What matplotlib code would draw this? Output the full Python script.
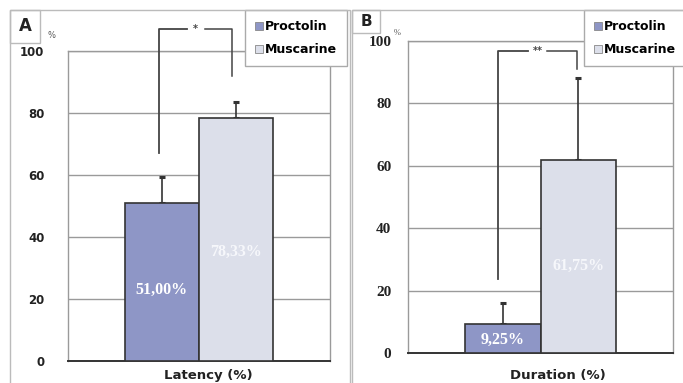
import matplotlib
matplotlib.use("Agg")
import matplotlib.pyplot as plt
from matplotlib.patches import Rectangle

# measured means (%) and upper SEM for each protocol
groups = ["Proctolin", "Muscarine"]
latency = [51.00, 78.33]
latency_err = [8.4, 5.2]
duration = [9.25, 61.75]
duration_err = [6.8, 26.3]

# significance brackets: left foot, top, right foot (%)
latency_bracket = [67, 107, 92]
duration_bracket = [23.7, 96.8, 91]
latency_mark = "*"
duration_mark = "**"

yticks = [0, 20, 40, 60, 80, 100]
colors = ["#8e96c6", "#dcdfea"]
edge = "#333333"
grid = "#9a9a9a"

W, H = 683, 383
fig = plt.figure(figsize=(W / 100, H / 100), dpi=100)


def px_axes(l, t, r, b):
    return fig.add_axes([l / W, 1 - b / H, (r - l) / W, (b - t) / H])


def panel(ax, vals, errs, bracket, mark, xlabel, tick_font, xl_x, bx_off):
    x = [0, 1]
    bars = ax.bar(x, vals, width=1.0, color=colors, edgecolor=edge,
                  linewidth=1.2, zorder=3)
    ax.errorbar(x, vals, yerr=[[0, 0], errs], fmt="none", ecolor=edge,
                elinewidth=1.2, capsize=2.5, capthick=2.2, zorder=2)
    for xi, v, c in zip(x, vals, ["white", "#f6f7fb"]):
        ax.text(xi, v * 0.45, f"{v:.2f}%".replace(".", ","), ha="center",
                va="center", color=c, fontsize=11.5, fontweight="bold",
                family="Liberation Serif", zorder=4)

    # bracket with the significance mark in a gap on top
    x0, x1 = 0 + bx_off[0], 1 + bx_off[1]
    xm = (x0 + x1) / 2
    gap = 0.12
    y0, yt, y1 = bracket
    ax.plot([x0, x0, xm - gap], [y0, yt, yt], color="#444444", lw=1.3,
            clip_on=False, zorder=3)
    ax.plot([xm + gap, x1, x1], [yt, yt, y1], color="#444444", lw=1.1,
            clip_on=False, zorder=3)
    ax.text(xm, yt, mark, ha="center", va="center", fontsize=7,
            color="#444444", fontweight="bold")

    ax.set_xlim(-1.26, 2.26)
    ax.set_ylim(0, 100)
    ax.set_yticks(yticks)
    ax.set_xticks([])
    ax.yaxis.grid(True, color=grid, lw=1)
    ax.set_axisbelow(True)
    for s in ["left", "right", "top"]:
        ax.spines[s].set_color(grid)
        ax.spines[s].set_linewidth(1)
    ax.spines["bottom"].set_color("#333333")
    ax.spines["bottom"].set_linewidth(1.4)
    ax.tick_params(axis="y", length=0, pad=tick_font[1])
    for lab in ax.get_yticklabels():
        lab.set_fontfamily(tick_font[0])
        lab.set_fontweight("bold")
        lab.set_fontsize(tick_font[2])
        lab.set_color("#222222")
    fig.text(xl_x / W, 1 - 376 / H, xlabel, ha="center", va="center",
             fontsize=9.5, fontweight="bold", color="#222222")
    return bars


axA = px_axes(68, 51, 330, 361)
axB = px_axes(408, 41, 673, 353)
barsA = panel(axA, latency, latency_err, latency_bracket, latency_mark,
              "Latency (%)", ("DejaVu Sans", 17, 8.5), 208, (-0.04, -0.05))
barsB = panel(axB, duration, duration_err, duration_bracket, duration_mark,
              "Duration (%)", ("Liberation Serif", 12, 11), 558, (-0.07, -0.01))

for ax, bars, lx in [(axA, barsA, 245), (axB, barsB, 584)]:
    leg = ax.legend(bars, groups, loc="upper left",
                    bbox_to_anchor=(lx / W, 1 - 10 / H),
                    bbox_transform=fig.transFigure, frameon=True,
                    fancybox=False, edgecolor="#aaaaaa", framealpha=1,
                    handlelength=0.6, handleheight=0.6, handletextpad=0.2,
                    borderpad=0.8, labelspacing=0.8, borderaxespad=0,
                    prop={"weight": "bold", "size": 9})
    for h in leg.legend_handles:
        h.set_linewidth(0.6)
        h.set_edgecolor("#888888")
    leg.set_zorder(6)

# panel frames and letter boxes
frame_kw = dict(transform=fig.transFigure, fill=False, edgecolor="#bbbbbb",
                lw=1, clip_on=False)
fig.patches.append(Rectangle((10 / W, -0.1), 340 / W, 1.1 - 10 / H, **frame_kw))
fig.patches.append(Rectangle((352 / W, -0.1), 340 / W, 1.1 - 10 / H, **frame_kw))
fig.patches.append(Rectangle((10 / W, 1 - 43 / H), 30 / W, 33 / H, **frame_kw))
fig.patches.append(Rectangle((352 / W, 1 - 33 / H), 28 / W, 23 / H, **frame_kw))
fig.text(25 / W, 1 - 26 / H, "A", ha="center", va="center", fontsize=12,
         fontweight="bold", color="#222222")
fig.text(366 / W, 1 - 22 / H, "B", ha="center", va="center", fontsize=11,
         fontweight="bold", color="#222222")
fig.text(51 / W, 1 - 35 / H, "%", ha="center", va="center", fontsize=6,
         color="#555555")
fig.text(397 / W, 1 - 33 / H, "%", ha="center", va="center", fontsize=6,
         color="#555555", family="Liberation Serif")

fig.savefig("out.png", dpi=100)
